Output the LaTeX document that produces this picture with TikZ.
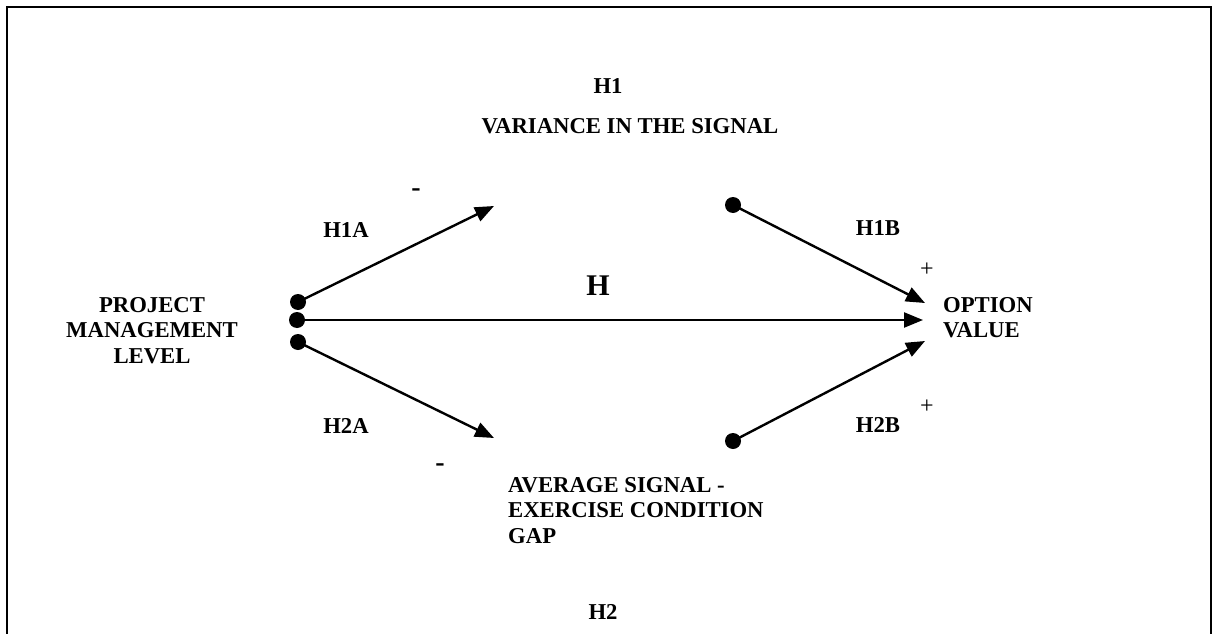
\documentclass[tikz,border=0pt]{standalone}
\usepackage{fontspec}
\setmainfont{Liberation Serif}
\usetikzlibrary{arrows.meta}
\tikzset{
  hlbl/.style={font=\bfseries\fontsize{22.7}{25.5}\selectfont, inner sep=0pt, anchor=north},
  sgn/.style={font=\fontsize{24}{24}\selectfont, inner sep=0pt},
  dot/.style={fill, radius=8pt},
  link/.style={line width=2.4pt, -{Triangle[length=19pt,width=15pt]}},
}

\begin{document}
\begin{tikzpicture}[x=1pt,y=-1pt]
  \useasboundingbox (0,0) rectangle (1218,634);
  \draw[line width=1.6pt] (7,634) -- (7,7) -- (1211,7) -- (1211,634);

  \node[hlbl] (h1) at (608,78) {H1};
  \node[hlbl] (var) at (630,118) {VARIANCE IN THE SIGNAL};
  \node[hlbl, align=center] (pml) at (152,297) {PROJECT\\MANAGEMENT\\LEVEL};
  \node[hlbl, align=left, anchor=north west] (opt) at (943,297) {OPTION\\VALUE};
  \node[hlbl, align=left, anchor=north west] (gap) at (508,477) {AVERAGE SIGNAL -\\EXERCISE CONDITION\\GAP};
  \node[hlbl] (h2) at (603,604) {H2};
  \node[hlbl, font=\bfseries\fontsize{30}{30}\selectfont] (h) at (598,276) {H};

  \node[hlbl] (h1a) at (346,222) {H1A};
  \node[hlbl] (h2a) at (346,418) {H2A};
  \node[hlbl] (h1b) at (878,220) {H1B};
  \node[hlbl] (h2b) at (878,417) {H2B};
  \node[hlbl, anchor=center, font=\bfseries\fontsize{28}{28}\selectfont] (m1) at (416,193) {-};
  \node[hlbl, anchor=center, font=\bfseries\fontsize{28}{28}\selectfont] (m2) at (440,468) {-};
  \node[sgn] (p1) at (927,270) {+};
  \node[sgn] (p2) at (927,407) {+};

  \coordinate (pmTop) at (298,302);
  \coordinate (pmMid) at (297,320);
  \coordinate (pmBot) at (298,342);
  \coordinate (varIn) at (494,206);
  \coordinate (varOut) at (733,205);
  \coordinate (gapIn) at (494,438);
  \coordinate (gapOut) at (733,441);
  \coordinate (optTop) at (925,303);
  \coordinate (optMid) at (923,320);
  \coordinate (optBot) at (925,341);

  \foreach \c in {pmTop,pmMid,pmBot,varOut,gapOut}
    \fill[dot] (\c) circle;

  \draw[link] (pmTop) -- (varIn);
  \draw[link] (pmMid) -- (optMid);
  \draw[link] (pmBot) -- (gapIn);
  \draw[link] (varOut) -- (optTop);
  \draw[link] (gapOut) -- (optBot);
\end{tikzpicture}
\end{document}
